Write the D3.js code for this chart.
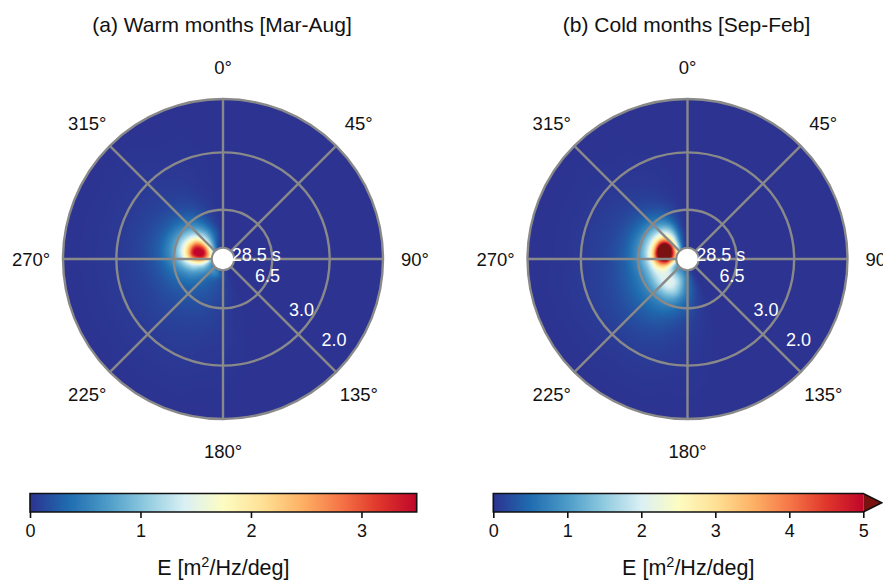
<!DOCTYPE html>
<html>
<head>
<meta charset="utf-8">
<script src="https://cdn.jsdelivr.net/npm/d3@7"></script>
<style>
  html, body { margin: 0; padding: 0; background: #fff; }
  svg { display: block; font-family: "Liberation Sans", Arial, Helvetica, sans-serif; }
</style>
</head>
<body>
<svg id="chart" width="883" height="581"></svg>
<script>
// Spectral grid: frequency nodes (Hz) and direction nodes (deg, clockwise from north)
const freqs = [0.035, 0.05, 0.065, 0.08, 0.095, 0.11, 0.13, 0.16, 0.2, 0.25, 0.32, 0.4, 0.5];
const dirs = [150, 160, 170, 180, 190, 200, 210, 220, 230, 240, 250, 260, 270, 280, 290, 300, 310, 320, 330, 340, 350];

// Mean directional spectrum E [m^2/Hz/deg], warm months (rows follow freqs, columns follow dirs)
const warmE = [
  [0, 0,    0.05, 0.1,  0.2,  0.35, 0.45, 0.5,  0.5,  0.55, 0.65, 0.85, 1.2,  1.45, 1.45, 1.25, 0.95, 0.6,  0.32, 0.15, 0.05],
  [0, 0.02, 0.08, 0.15, 0.3,  0.45, 0.55, 0.6,  0.6,  0.7,  0.95, 1.45, 2.1,  2.6,  2.55, 2.1,  1.5,  0.95, 0.52, 0.22, 0.08],
  [0, 0.02, 0.06, 0.12, 0.2,  0.3,  0.38, 0.45, 0.55, 0.75, 1.1,  1.75, 2.8,  3.45, 3.45, 2.85, 1.9,  1.2,  0.68, 0.32, 0.12],
  [0, 0.02, 0.05, 0.1,  0.17, 0.22, 0.28, 0.35, 0.48, 0.7,  1.0,  1.65, 2.8,  3.6,  3.6,  3.0,  2.0,  1.25, 0.72, 0.36, 0.15],
  [0, 0.02, 0.05, 0.1,  0.16, 0.2,  0.25, 0.31, 0.42, 0.6,  0.92, 1.45, 2.4,  3.3,  3.3,  2.7,  1.8,  1.15, 0.68, 0.33, 0.12],
  [0, 0.02, 0.05, 0.1,  0.15, 0.19, 0.23, 0.28, 0.37, 0.52, 0.75, 1.15, 1.8,  2.35, 2.4,  2.0,  1.4,  0.92, 0.54, 0.25, 0.08],
  [0, 0.02, 0.04, 0.09, 0.13, 0.17, 0.2,  0.25, 0.31, 0.4,  0.55, 0.8,  1.15, 1.42, 1.45, 1.25, 0.95, 0.64, 0.37, 0.17, 0.05],
  [0, 0.01, 0.03, 0.07, 0.1,  0.14, 0.17, 0.2,  0.23, 0.28, 0.35, 0.45, 0.6,  0.7,  0.72, 0.64, 0.5,  0.36, 0.22, 0.1,  0.03],
  [0, 0.01, 0.02, 0.05, 0.08, 0.1,  0.12, 0.14, 0.16, 0.18, 0.2,  0.23, 0.27, 0.3,  0.3,  0.27, 0.23, 0.17, 0.11, 0.05, 0.02],
  [0, 0,    0.02, 0.04, 0.05, 0.07, 0.08, 0.09, 0.1,  0.1,  0.1,  0.11, 0.12, 0.13, 0.13, 0.12, 0.1,  0.08, 0.06, 0.03, 0.01],
  [0, 0,    0.01, 0.02, 0.03, 0.04, 0.05, 0.05, 0.05, 0.05, 0.05, 0.05, 0.05, 0.05, 0.05, 0.05, 0.05, 0.04, 0.03, 0.02, 0.01],
  [0, 0,    0,    0.01, 0.01, 0.02, 0.02, 0.02, 0.02, 0.02, 0.02, 0.02, 0.02, 0.02, 0.02, 0.02, 0.02, 0.02, 0.01, 0.01, 0],
  [0, 0,    0,    0,    0,    0,    0,    0,    0,    0,    0,    0,    0,    0,    0,    0,    0,    0,    0,    0,    0]
];

// Mean directional spectrum E [m^2/Hz/deg], cold months
const coldE = [
  [0, 0.05, 0.15, 0.3,  0.5,  0.7,  0.8,  0.85, 0.9,  1.1,  1.5,  2.0,  2.6,  3.0,  3.0,  2.6,  2.0,  1.4,  0.8,  0.35, 0.1],
  [0, 0.08, 0.25, 0.5,  0.8,  1.0,  1.1,  1.15, 1.2,  1.5,  2.2,  3.2,  4.2,  4.8,  4.8,  4.2,  3.2,  2.1,  1.2,  0.5,  0.15],
  [0, 0.1,  0.3,  0.6,  1.0,  1.35, 1.6,  1.7,  1.75, 2.0,  2.8,  4.2,  5.6,  6.5,  6.5,  5.8,  4.3,  2.6,  1.45, 0.6,  0.18],
  [0, 0.1,  0.3,  0.6,  1.1,  1.6,  1.95, 2.05, 2.05, 2.2,  2.8,  4.0,  5.5,  6.8,  7.0,  6.0,  4.4,  2.75, 1.6,  0.65, 0.2],
  [0, 0.1,  0.3,  0.6,  1.1,  1.6,  2.0,  2.1,  2.05, 2.1,  2.4,  3.2,  4.3,  5.2,  5.4,  4.8,  3.6,  2.4,  1.5,  0.62, 0.15],
  [0, 0.08, 0.25, 0.55, 1.0,  1.5,  1.8,  1.9,  1.85, 1.8,  1.9,  2.2,  2.7,  3.1,  3.2,  3.0,  2.5,  1.9,  1.25, 0.52, 0.12],
  [0, 0.06, 0.2,  0.45, 0.75, 1.1,  1.3,  1.35, 1.3,  1.25, 1.25, 1.35, 1.55, 1.7,  1.75, 1.7,  1.5,  1.2,  0.8,  0.36, 0.1],
  [0, 0.04, 0.12, 0.28, 0.45, 0.62, 0.72, 0.75, 0.74, 0.72, 0.7,  0.74, 0.8,  0.85, 0.86, 0.82, 0.75, 0.6,  0.4,  0.2,  0.05],
  [0, 0.02, 0.07, 0.15, 0.24, 0.34, 0.42, 0.44, 0.44, 0.42, 0.39, 0.37, 0.37, 0.37, 0.37, 0.36, 0.32, 0.25, 0.16, 0.08, 0.02],
  [0, 0.01, 0.04, 0.08, 0.12, 0.18, 0.22, 0.24, 0.24, 0.22, 0.2,  0.18, 0.17, 0.17, 0.16, 0.15, 0.13, 0.1,  0.07, 0.04, 0.01],
  [0, 0,    0.02, 0.04, 0.06, 0.08, 0.1,  0.1,  0.1,  0.1,  0.09, 0.08, 0.07, 0.07, 0.07, 0.06, 0.05, 0.04, 0.03, 0.02, 0],
  [0, 0,    0.01, 0.02, 0.02, 0.03, 0.03, 0.03, 0.03, 0.03, 0.03, 0.03, 0.02, 0.02, 0.02, 0.02, 0.02, 0.01, 0.01, 0,    0],
  [0, 0,    0,    0,    0,    0,    0,    0,    0,    0,    0,    0,    0,    0,    0,    0,    0,    0,    0,    0,    0]
];

const periodTicks = [28.5, 6.5, 3.0, 2.0];          // wave period rings [s]
const angleTicks = [0, 45, 90, 135, 180, 225, 270, 315];
const warmBarTicks = [0, 1, 2, 3];
const coldBarTicks = [0, 1, 2, 3, 4, 5];
const titles = ["(a) Warm months [Mar-Aug]", "(b) Cold months [Sep-Feb]"];
const paletteColors = ["#2c3391", "#1f6cb0", "#4c9bc8", "#90cbe0", "#daf0f4", "#fdfcc2",
                       "#fee196", "#fdb366", "#f67748", "#e0372b", "#c0062a"];
const overColor = "#7a1212";

const svg = d3.select("#chart");
const R = 160, cy = 259;
const gridColor = "#898989";
const rScale = d3.scaleLinear().domain([0, 0.5]).range([0, R]);
const fIndex = d3.scaleLinear().domain(freqs).range(d3.range(freqs.length)).clamp(true);

function makeColor(vmax, over) {
  const s = d3.scaleLinear()
    .domain(paletteColors.map((c, i) => vmax * i / (paletteColors.length - 1)))
    .range(paletteColors)
    .interpolate(d3.interpolateRgb)
    .clamp(true);
  return v => (over && v > vmax) ? over : s(v);
}

function catmull(p0, p1, p2, p3, t) {
  return 0.5 * (2 * p1 + (-p0 + p2) * t + (2 * p0 - 5 * p1 + 4 * p2 - p3) * t * t +
    (-p0 + 3 * p1 - 3 * p2 + p3) * t * t * t);
}

function sampler(E) {
  const nf = freqs.length, nd = dirs.length, d0 = dirs[0], dd = dirs[1] - dirs[0];
  const get = (i, j) => {
    i = Math.max(0, Math.min(nf - 1, i));
    if (j < 0 || j >= nd) return 0;
    return E[i][j];
  };
  return (f, bearing) => {
    const fi = fIndex(f);
    const dj = (bearing - d0) / dd;
    const i0 = Math.floor(fi), j0 = Math.floor(dj);
    const tf = fi - i0, td = dj - j0;
    const rows = [-1, 0, 1, 2].map(a => catmull(
      get(i0 + a, j0 - 1), get(i0 + a, j0), get(i0 + a, j0 + 1), get(i0 + a, j0 + 2), td));
    return Math.max(0, catmull(rows[0], rows[1], rows[2], rows[3], tf));
  };
}

const panels = [
  { title: titles[0], E: warmE, vmax: 3.5, ticks: warmBarTicks, over: null, cx: 223,
    bar: [30, 416.7] },
  { title: titles[1], E: coldE, vmax: 5, ticks: coldBarTicks, over: overColor, cx: 687.5,
    bar: [493.3, 863.3] }
];

const rHole = rScale(1 / periodTicks[0]);
const defs = svg.append("defs");

panels.forEach((p, k) => {
  const color = makeColor(p.vmax, p.over);
  const val = sampler(p.E);

  // rasterise the spectrum onto a polar disc
  const size = 2 * R + 2;
  const canvas = document.createElement("canvas");
  canvas.width = size; canvas.height = size;
  const ctx = canvas.getContext("2d");
  const img = ctx.createImageData(size, size);
  const c0 = size / 2;
  for (let y = 0; y < size; y++) {
    for (let x = 0; x < size; x++) {
      const dx = x + 0.5 - c0, dy = y + 0.5 - c0;
      const r = Math.hypot(dx, dy);
      if (r > R + 1) continue;
      const f = rScale.invert(r);
      let b = Math.atan2(dx, -dy) * 180 / Math.PI;
      if (b < 0) b += 360;
      const c = d3.rgb(color(val(f, b)));
      const o = (y * size + x) * 4;
      img.data[o] = c.r; img.data[o + 1] = c.g; img.data[o + 2] = c.b; img.data[o + 3] = 255;
    }
  }
  ctx.putImageData(img, 0, 0);

  const g = svg.append("g").attr("transform", `translate(${p.cx},${cy})`);
  g.append("clipPath").attr("id", "disc" + k)
    .append("circle").attr("r", R);
  g.append("image")
    .attr("href", canvas.toDataURL())
    .attr("x", -c0).attr("y", -c0).attr("width", size).attr("height", size)
    .attr("clip-path", `url(#disc${k})`);

  // radial spokes
  const pt = (r, deg) => {
    const a = deg * Math.PI / 180;
    return [r * Math.sin(a), -r * Math.cos(a)];
  };
  g.selectAll("line.spoke").data(angleTicks).join("line")
    .attr("class", "spoke")
    .attr("x1", d => pt(rHole, d)[0]).attr("y1", d => pt(rHole, d)[1])
    .attr("x2", d => pt(R, d)[0]).attr("y2", d => pt(R, d)[1])
    .attr("stroke", gridColor).attr("stroke-width", 2.4);

  // period rings
  g.selectAll("circle.ring").data(periodTicks.slice(1)).join("circle")
    .attr("class", "ring")
    .attr("r", d => rScale(1 / d))
    .attr("fill", "none").attr("stroke", gridColor).attr("stroke-width", 2.4);

  // central hole
  g.append("circle").attr("r", rHole).attr("fill", "#fff")
    .attr("stroke", gridColor).attr("stroke-width", 2);

  // ring labels
  const ringSpots = [[82, 33.5], [109.8, 47.3], [123, 93.6], [125.8, 136.8]];
  g.selectAll("text.rlab").data(periodTicks).join("text")
    .attr("class", "rlab")
    .attr("x", (d, i) => pt(ringSpots[i][1], ringSpots[i][0])[0])
    .attr("y", (d, i) => pt(ringSpots[i][1], ringSpots[i][0])[1])
    .attr("dy", "0.36em")
    .attr("text-anchor", "middle")
    .attr("fill", "#fff")
    .attr("font-size", 18)
    .text((d, i) => i === 0 ? d3.format(".1f")(d) + " s" : d3.format(".1f")(d));

  // direction labels
  g.selectAll("text.alab").data(angleTicks).join("text")
    .attr("class", "alab")
    .attr("x", d => pt(192, d)[0])
    .attr("y", d => pt(192, d)[1])
    .attr("dy", "0.36em")
    .attr("text-anchor", "middle")
    .attr("fill", "#111")
    .attr("font-size", 18.5)
    .text(d => d + "°");

  // title
  svg.append("text")
    .attr("x", p.cx - 1).attr("y", 32)
    .attr("text-anchor", "middle")
    .attr("font-size", 21)
    .attr("fill", "#111")
    .text(p.title);

  // colour bar
  const [bx0, bx1] = p.bar;
  const by = 493.5, bh = 18.5;
  const xs = d3.scaleLinear().domain([0, p.vmax]).range([bx0, bx1]);
  const grad = defs.append("linearGradient").attr("id", "grad" + k)
    .attr("x1", 0).attr("x2", 1).attr("y1", 0).attr("y2", 0);
  d3.range(0, 1.0001, 0.02).forEach(t => {
    grad.append("stop").attr("offset", t).attr("stop-color", color(t * p.vmax * 0.99999));
  });
  const cb = svg.append("g");
  let outline = `M${bx0},${by}H${bx1}`;
  if (p.over) {
    cb.append("path")
      .attr("d", `M${bx1},${by}L${bx1 + 18.4},${by + bh / 2}L${bx1},${by + bh}Z`)
      .attr("fill", p.over);
    outline += `L${bx1 + 18.4},${by + bh / 2}L${bx1},${by + bh}`;
  } else {
    outline += `V${by + bh}`;
  }
  outline += `H${bx0}Z`;
  cb.append("rect").attr("x", bx0).attr("y", by).attr("width", bx1 - bx0).attr("height", bh)
    .attr("fill", `url(#grad${k})`);
  cb.append("path").attr("d", outline).attr("fill", "none")
    .attr("stroke", "#111").attr("stroke-width", 1.6);

  const axis = d3.axisBottom(xs).tickValues(p.ticks).tickFormat(d3.format("d"))
    .tickSize(6).tickPadding(6);
  const ax = svg.append("g").attr("transform", `translate(0,${by + bh})`).call(axis);
  ax.select(".domain").remove();
  ax.selectAll(".tick line").attr("stroke", "#111").attr("stroke-width", 1.6);
  ax.selectAll(".tick text").attr("font-size", 18).attr("fill", "#111")
    .attr("font-family", "'Liberation Sans', Arial, sans-serif");

  const lab = svg.append("text")
    .attr("x", (bx0 + bx1) / 2 + (p.over ? 10 : 0)).attr("y", 575)
    .attr("text-anchor", "middle").attr("font-size", 21.5).attr("fill", "#111");
  lab.append("tspan").text("E [m");
  lab.append("tspan").attr("font-size", 14.5).attr("dy", -8.5).text("2");
  lab.append("tspan").attr("dy", 8.5).text("/Hz/deg]");
});
</script>
</body>
</html>
